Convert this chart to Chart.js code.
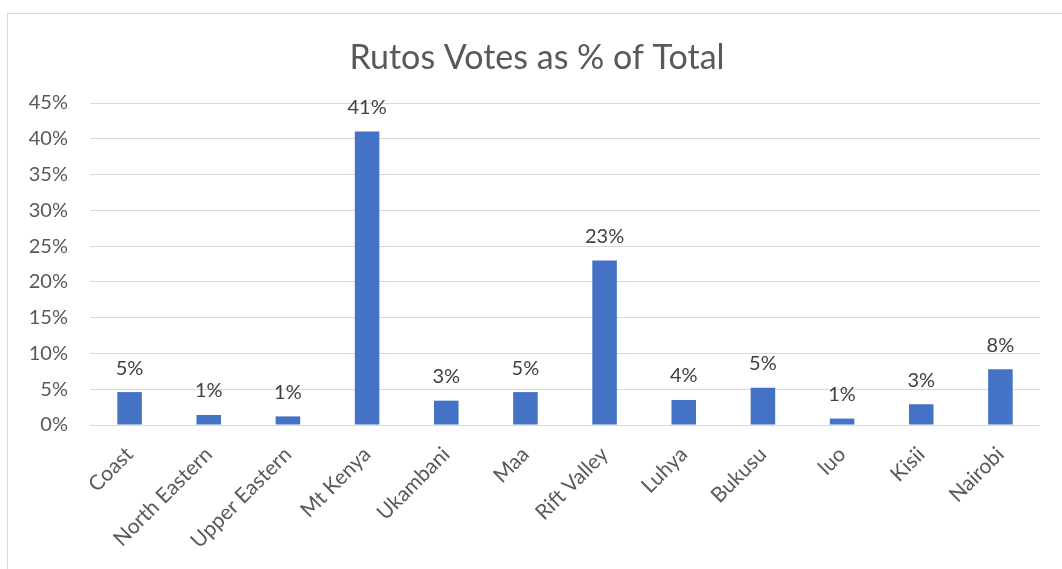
<!DOCTYPE html>
<html>
<head>
<meta charset="utf-8">
<script src="https://cdn.jsdelivr.net/npm/chart.js@4/dist/chart.umd.min.js"></script>
<style>
html,body{margin:0;padding:0;background:#fff;}
#wrap{width:1062px;height:569px;position:relative;}
</style>
</head>
<body>
<div id="wrap"><canvas id="c" width="1062" height="569"></canvas></div>
<script>
const categories = ["Coast","North Eastern","Upper Eastern","Mt Kenya","Ukambani","Maa","Rift Valley","Luhya","Bukusu","luo","Kisii","Nairobi"];
const votesPct = [4.6, 1.4, 1.2, 41.0, 3.4, 4.6, 23.0, 3.5, 5.2, 0.9, 2.9, 7.8];
const yTicks = [0,5,10,15,20,25,30,35,40,45];
const chartTitle = "Rutos Votes as % of Total";

const FONT = "Lato, 'Open Sans', sans-serif";

const frame = {
  id:'frame',
  beforeDraw(chart){
    const ctx = chart.ctx;
    ctx.save();
    ctx.fillStyle='#fff';
    ctx.fillRect(0,0,chart.width,chart.height);
    ctx.strokeStyle='#d9d9d9';
    ctx.lineWidth=1;
    ctx.strokeRect(7.5,13.5,chart.width+10,chart.height+10);
    ctx.font = "34px " + FONT;
    ctx.fillStyle = '#595959';
    ctx.textAlign = 'center';
    ctx.textBaseline = 'middle';
    ctx.fillText(chartTitle, 537, 58);
    ctx.restore();
  }
};

const valueLabels = {
  id:'valueLabels',
  afterDatasetsDraw(chart){
    const ctx = chart.ctx;
    const meta = chart.getDatasetMeta(0);
    ctx.save();
    ctx.font = "20px " + FONT;
    ctx.fillStyle = '#404040';
    ctx.textAlign='center';
    ctx.textBaseline='middle';
    meta.data.forEach((el,i)=>{
      const v = chart.data.datasets[0].data[i];
      ctx.fillText(Math.round(v)+'%', el.x, el.y-24);
    });
    ctx.restore();
  }
};

new Chart(document.getElementById('c'), {
  type:'bar',
  data:{
    labels:categories,
    datasets:[{
      data:votesPct,
      backgroundColor:'#4472C4',
      borderWidth:0,
      barPercentage:0.31,
      categoryPercentage:1.0
    }]
  },
  options:{
    responsive:false,
    animation:false,
    layout:{padding:{left:8,right:22,top:103,bottom:0}},
    plugins:{
      legend:{display:false},
      tooltip:{enabled:false},
      title:{display:false}
    },
    scales:{
      x:{
        grid:{display:false},
        border:{display:false},
        ticks:{
          color:'#595959',
          font:{family:FONT,size:21},
          maxRotation:45,minRotation:45,
          autoSkip:false,
          padding:9
        },
        afterFit(s){ s.height = 144; }
      },
      y:{
        min:0,max:45,
        afterBuildTicks(s){ s.ticks = yTicks.map(v=>({value:v})); },
        grid:{color:'#d9d9d9',lineWidth:1,drawTicks:false},
        border:{display:false},
        ticks:{
          color:'#595959',
          font:{family:FONT,size:20},
          padding:22,
          callback:v=>v+'%'
        },
        afterFit(s){ s.width = 82; }
      }
    }
  },
  plugins:[frame,valueLabels]
});
</script>
</body>
</html>
